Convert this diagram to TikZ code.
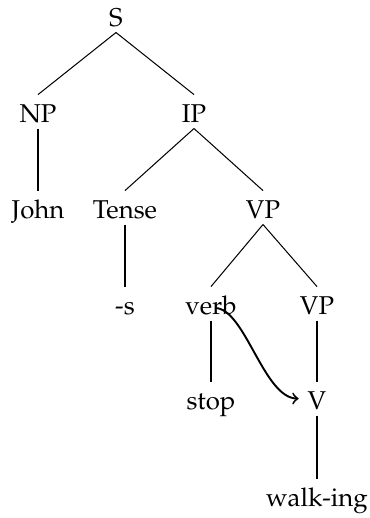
\documentclass[tikz,border=0pt]{standalone}
\usepackage[T1]{fontenc}
\usepackage{mathpazo}
\begin{document}
\begin{tikzpicture}[x=0.392pt, y=-0.392pt,
  lbl/.style={anchor=base, inner xsep=3.33pt, inner ysep=2.35pt,
              text height=8.2pt, text depth=0pt, font=\fontsize{10.1pt}{12pt}\selectfont},
  branch/.style={line width=0.4pt},
  move/.style={line width=0.75pt, ->}]
  \useasboundingbox (0,0) rectangle (369,518);

  % tree labels, placed on their baselines
  \node[lbl] (S)     at (116,26)  {S};
  \node[lbl] (NP)    at (38,122)  {NP};
  \node[lbl] (IP)    at (194,122) {IP};
  \node[lbl] (John)  at (38,218)  {John};
  \node[lbl] (Tense) at (125,218) {Tense};
  \node[lbl] (VP)    at (263,218) {VP};
  \node[lbl] (s)     at (125,314) {-s};
  \node[lbl] (verb)  at (211,314) {verb};
  \node[lbl] (VPb)   at (317,314) {VP};
  \node[lbl] (stop)  at (211,409) {stop};
  \node[lbl] (V)     at (317,409) {V};
  \node[lbl] (walk)  at (317,506) {walk-ing};

  % branches
  \draw[branch] (S.south) -- (NP.north);
  \draw[branch] (S.south) -- (IP.north);
  \draw[branch] (NP.south) -- (John.north);
  \draw[branch] (IP.south) -- (Tense.north);
  \draw[branch] (IP.south) -- (VP.north);
  \draw[branch] (Tense.south) -- (s.north);
  \draw[branch] (VP.south) -- (verb.north);
  \draw[branch] (VP.south) -- (VPb.north);
  \draw[branch] (verb.south) -- (stop.north);
  \draw[branch] (VPb.south) -- (V.north);
  \draw[branch] (V.south) -- (walk.north);

  % head movement of the verb into V
  \draw[move] ([xshift=4*0.392pt, yshift=6*0.392pt]verb.base)
    .. controls +(30,0) and +(-35,0) .. (V.west);
\end{tikzpicture}
\end{document}
